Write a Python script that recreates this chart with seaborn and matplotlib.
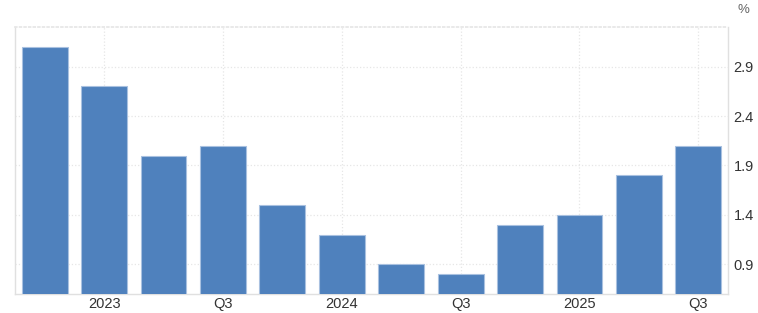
import matplotlib
matplotlib.use("Agg")
import matplotlib.pyplot as plt
import seaborn as sns
import pandas as pd

quarters = ["Q4 2022", "Q1 2023", "Q2 2023", "Q3 2023", "Q4 2023", "Q1 2024",
            "Q2 2024", "Q3 2024", "Q4 2024", "Q1 2025", "Q2 2025", "Q3 2025"]
values = [3.1, 2.7, 2.0, 2.1, 1.5, 1.2, 0.9, 0.8, 1.3, 1.4, 1.8, 2.1]
tick_labels = {"Q1 2023": "2023", "Q3 2023": "Q3", "Q1 2024": "2024",
               "Q3 2024": "Q3", "Q1 2025": "2025", "Q3 2025": "Q3"}
y_ticks = [0.9, 1.4, 1.9, 2.4, 2.9]

sns.set_theme(style="white")
plt.rcParams['font.family'] = ['Liberation Sans', 'DejaVu Sans']

df = pd.DataFrame({"quarter": quarters, "value": values})

fig = plt.figure(figsize=(7.58, 3.13), dpi=100)
ax = fig.add_axes([15/758, 19/313, (728-15)/758, (294-27)/313])

sns.barplot(data=df, x="quarter", y="value", color="#4f81bd", saturation=1,
            width=0.77, edgecolor="#a9c1e0", linewidth=0.8, ax=ax, zorder=3)

ax.set_xlim(-0.5, len(quarters) - 0.5)
ax.set_ylim(0.6, 3.3)

pos = [quarters.index(q) for q in tick_labels]
ax.set_xticks(pos)
ax.set_xticklabels(list(tick_labels.values()))
ax.set_yticks(y_ticks)
ax.set_yticklabels([f"{v:.1f}" for v in y_ticks])
ax.yaxis.tick_right()
ax.tick_params(axis="both", length=0, labelsize=10.5, colors="#333333")
ax.tick_params(axis="y", pad=4)
ax.tick_params(axis="x", pad=2)
ax.set_xlabel("")
ax.set_ylabel("")

ax.grid(True, axis="both", color="#e6e6e6", linestyle=":", linewidth=0.9, zorder=0)
ax.set_axisbelow(True)

for side in ["left", "bottom", "right"]:
    ax.spines[side].set_color("#e0e0e0")
    ax.spines[side].set_linewidth(1)
ax.spines["top"].set_color("#e6e6e6")
ax.spines["top"].set_linestyle(":")

fig.text(743/758, 1 - 10/313, "%", ha="center", va="center", fontsize=9.5, color="#666666")

fig.savefig("out.png", dpi=100)
